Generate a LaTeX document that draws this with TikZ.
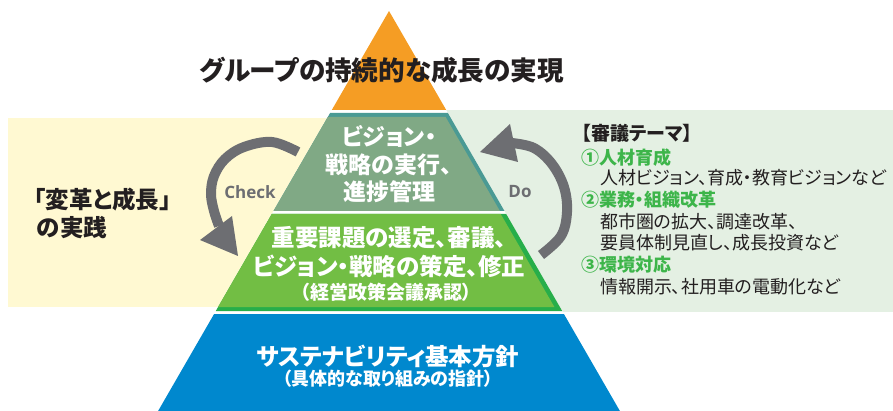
\documentclass[tikz,border=0pt]{standalone}
\usepackage{fontspec}
\setmainfont{Noto Sans CJK JP}[RawFeature=+palt]
\newfontfamily\lat{Open Sans}
\definecolor{orangeL}{HTML}{F59D24}
\definecolor{tealB}{HTML}{4A9A94}
\definecolor{sage}{HTML}{80A985}
\definecolor{leaf}{HTML}{72BE44}
\definecolor{leafB}{HTML}{27AE4A}
\definecolor{blueL}{HTML}{0088CE}
\definecolor{bandY}{HTML}{FFF9D2}
\definecolor{bandG}{HTML}{E4F0E3}
\definecolor{arrowG}{HTML}{6D6E72}
\definecolor{txtG}{HTML}{3DB54A}
\definecolor{ink}{HTML}{231F20}
\begin{document}
\begin{tikzpicture}[x=1pt,y=-1pt,
  lbl/.style={inner sep=0pt,outer sep=0pt},
  wtxt/.style={lbl,text=white,align=center},
  itemhead/.style={lbl,anchor=west,text=txtG,font=\fontsize{18}{21}\selectfont\bfseries},
  itembody/.style={lbl,anchor=west,text=ink,font=\fontsize{18}{21}\selectfont},
  cyc/.style={arrowG,line width=10pt,line cap=butt}]
\useasboundingbox (0,0) rectangle (893,411);
% background bands
\fill[bandY] (8,118) rectangle (389,307);
\fill[bandG] (389,110) rectangle (893,312);
% cycle arrows
\draw[cyc] plot[smooth,tension=0.6] coordinates {(298,152) (272,142) (244,147) (225,159) (214,176) (211,194) (214,211) (219,226)};
\fill[arrowG] (200,240) -- (232,216) -- (238,256) -- cycle;
\draw[cyc] plot[smooth,tension=0.6] coordinates {(541,255) (561,236) (567,212) (564,187) (552,164) (534,148) (512,143)};
\fill[arrowG] (510,124) -- (518,162) -- (480,152) -- cycle;
% pyramid
\fill[white] (389,11) -- (619.9,411) -- (158.1,411) -- cycle;
\fill[orangeL] (389,11) -- (446.2,110) -- (331.8,110) -- cycle;
\fill[tealB] (330.1,113) -- (447.9,113) -- (504.5,211) -- (273.5,211) -- cycle;
\fill[sage] (327.8,117) -- (445.6,117) -- (499.9,211) -- (273.5,211) -- cycle;
\fill[leafB] (271.8,214) -- (506.2,214) -- (562.2,311) -- (215.8,311) -- cycle;
\fill[leaf] (271.8,214) -- (500.7,214) -- (554.4,307) -- (218.1,307) -- cycle;
\fill[blueL] (214.1,314) -- (563.9,314) -- (619.9,411) -- (158.1,411) -- cycle;
% texts
\node[lbl,text=ink,font=\fontsize{26.6}{30}\selectfont\bfseries] (title) at (381.5,70) {グループの持続的な成長の実現};
\node[lbl,anchor=west,text=ink,font=\fontsize{23.5}{27}\selectfont\bfseries] (lt1) at (34,200) {「変革と成長」};
\node[lbl,anchor=west,text=ink,font=\fontsize{23.5}{27}\selectfont\bfseries] (lt2) at (37,228) {の実践};
\node[lbl,text=arrowG,font=\lat\fontsize{17}{20}\selectfont\bfseries] (check) at (250,192) {Check};
\node[lbl,text=arrowG,font=\lat\fontsize{17}{20}\selectfont\bfseries] (do) at (520,192) {Do};
\node[wtxt,font=\fontsize{23}{27.5}\selectfont\bfseries] (l2) at (389,164.5) {ビジョン・\\戦略の実行、\\進捗管理};
\node[wtxt,font=\fontsize{23.5}{29}\selectfont\bfseries] (l3a) at (389,252.5) {重要課題の選定、審議、\\ビジョン・戦略の策定、修正};
\node[wtxt,font=\fontsize{19}{22}\selectfont\bfseries] (l3b) at (386,292) {（経営政策会議承認）};
\node[wtxt,font=\fontsize{23.5}{26}\selectfont\bfseries] (b1) at (388,356) {サステナビリティ基本方針};
\node[wtxt,font=\fontsize{18}{21}\selectfont\bfseries] (b2) at (388,379) {（具体的な取り組みの指針）};
\node[lbl,anchor=west,text=ink,font=\fontsize{19}{22}\selectfont\bfseries] (r0) at (582,133) {【審議テーマ】};
\node[itemhead] (r1) at (581,158) {①人材育成};
\node[itembody] (r2) at (600,178) {人材ビジョン、育成・教育ビジョンなど};
\node[itemhead] (r3) at (581,200) {②業務・組織改革};
\node[itembody] (r4) at (600,222) {都市圏の拡大、調達改革、};
\node[itembody] (r5) at (600,243) {要員体制見直し、成長投資など};
\node[itemhead] (r6) at (581,265) {③環境対応};
\node[itembody] (r7) at (600,287) {情報開示、社用車の電動化など};
\end{tikzpicture}
\end{document}
